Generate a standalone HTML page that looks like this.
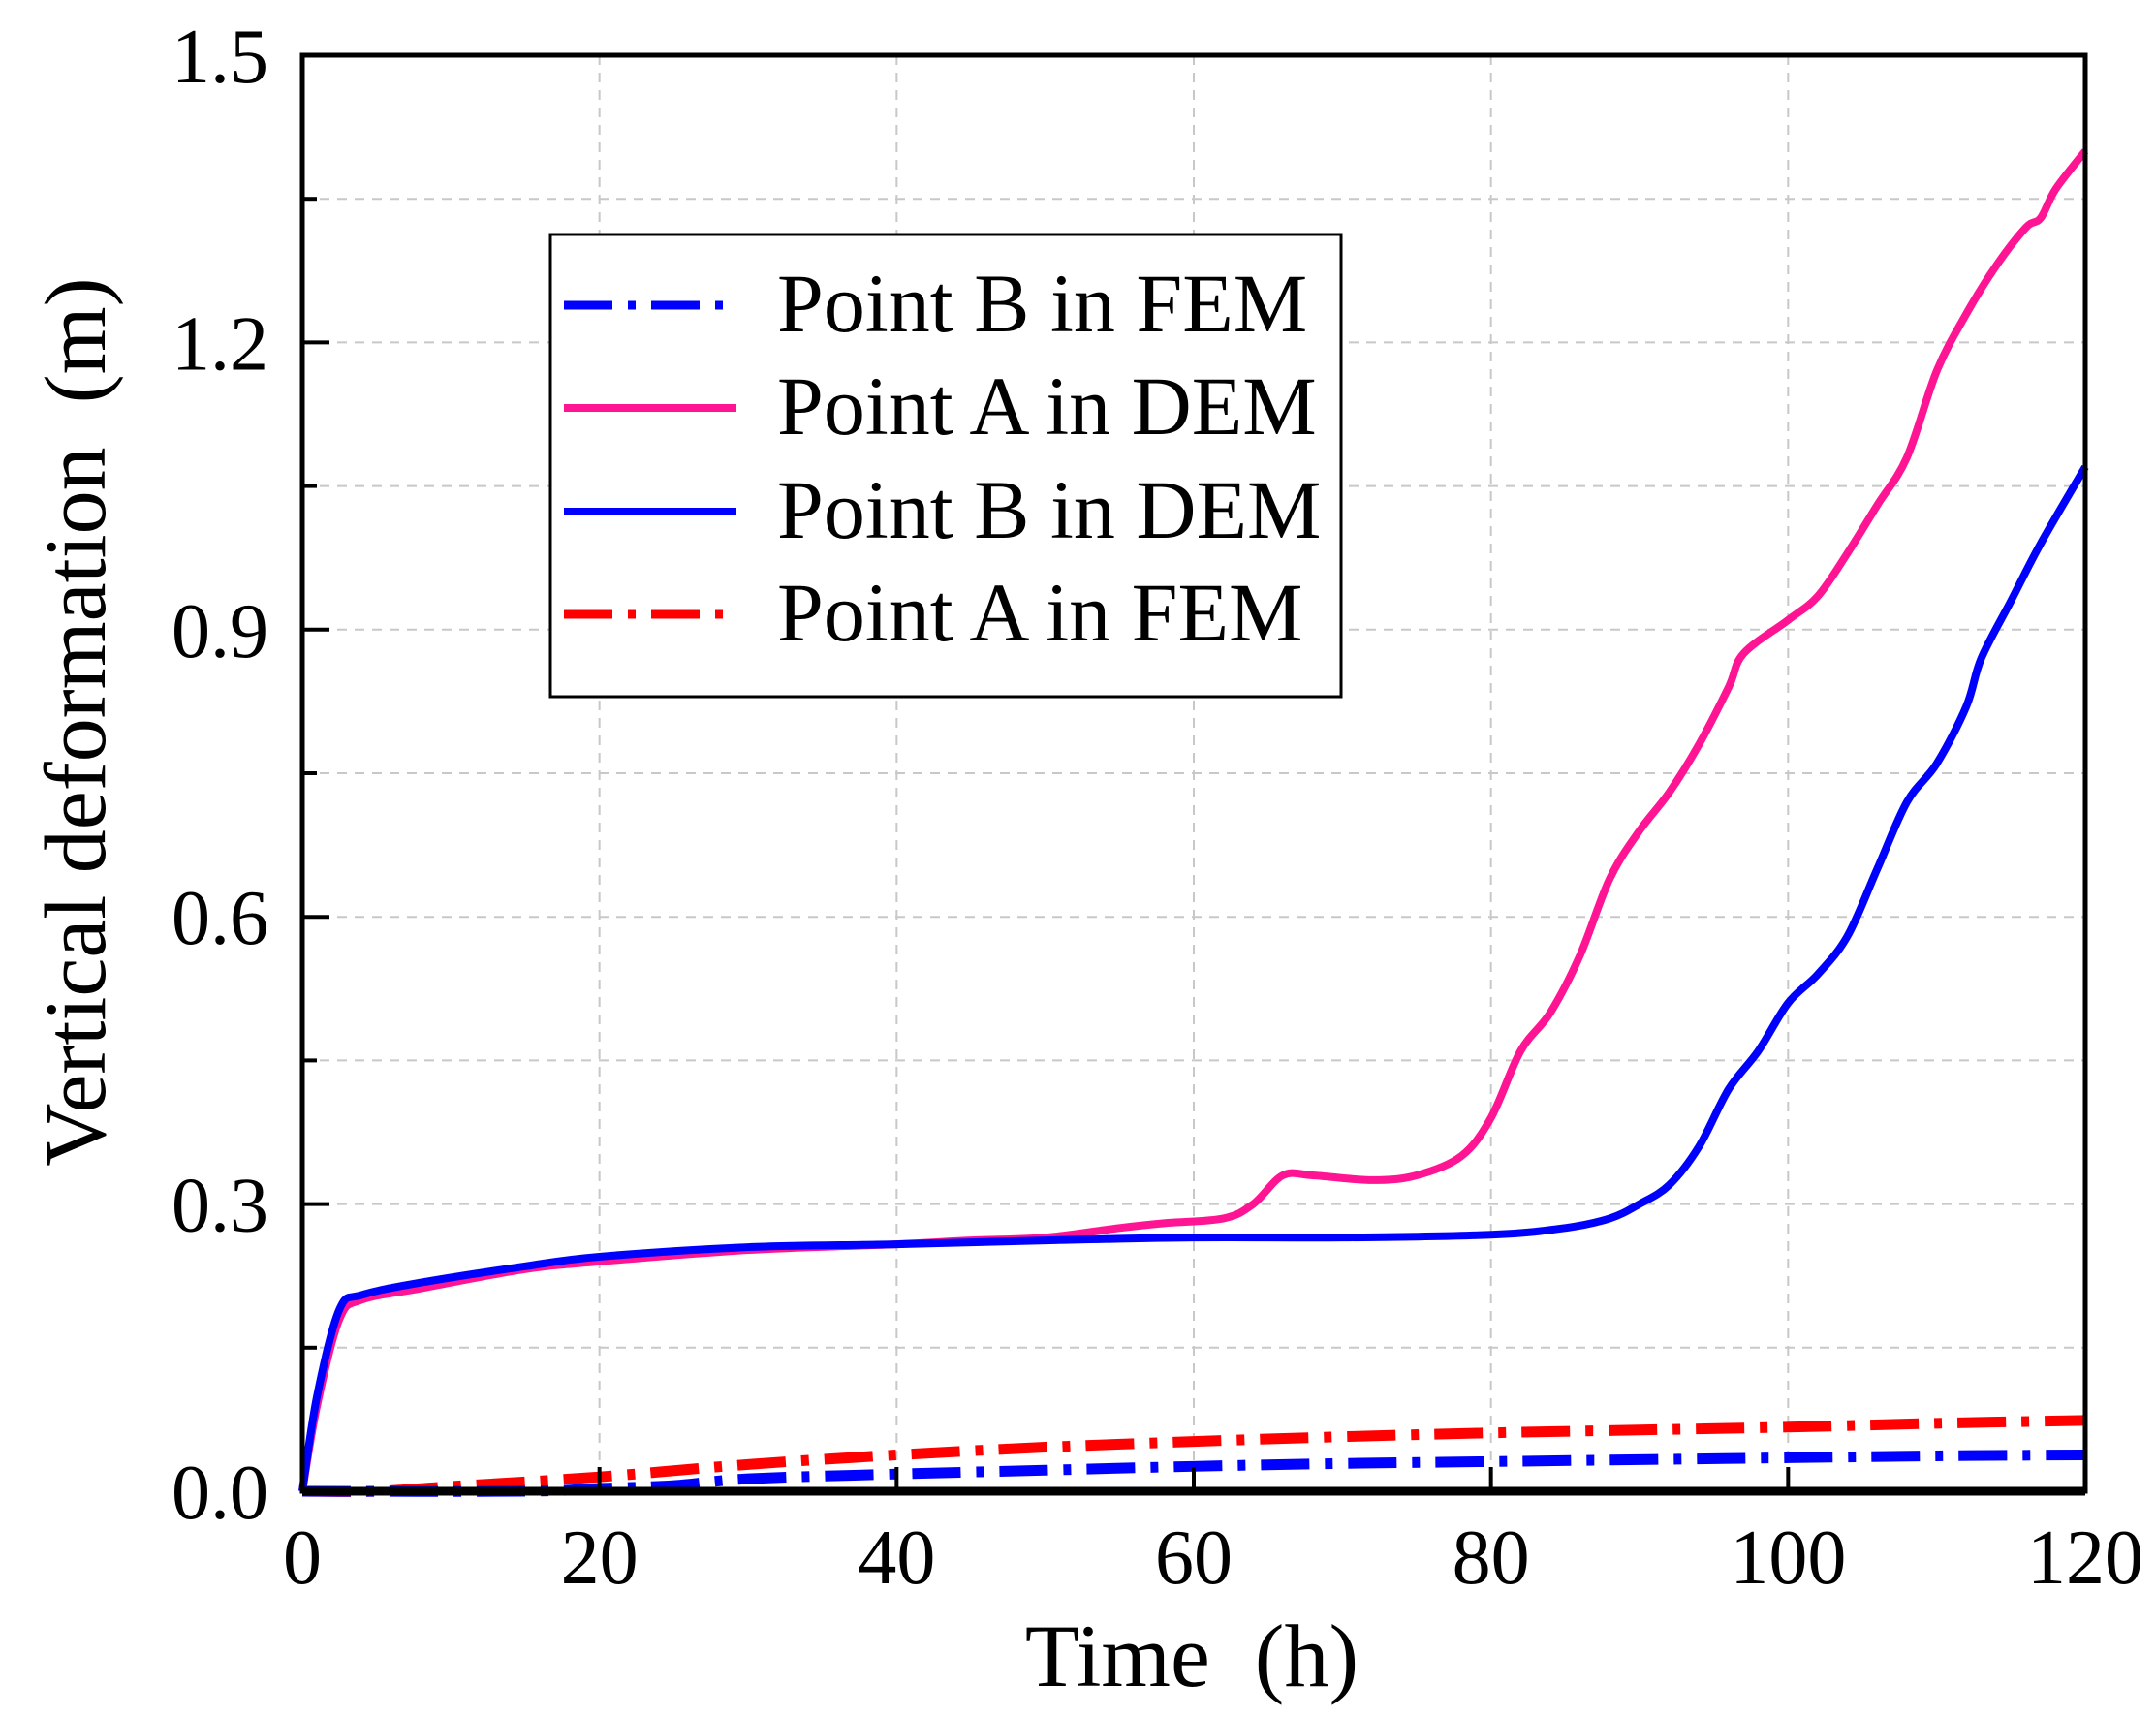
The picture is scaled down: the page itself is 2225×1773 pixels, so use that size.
<!DOCTYPE html>
<html><head><meta charset="utf-8"><style>
html,body{margin:0;padding:0;background:#fff;}
svg{display:block;font-family:"Liberation Serif",serif;}
</style></head><body>
<svg id="chart" width="2225" height="1773" viewBox="0 0 2225 1773" xmlns="http://www.w3.org/2000/svg">
<g id="grid"></g>
<g id="series"></g>
<g id="axes"></g>
<text x="1230" y="1740" font-size="92" text-anchor="middle">Time &#160;(h)</text>
<text transform="translate(108,745) rotate(-90)" font-size="90" text-anchor="middle">Vertical deformation &#160;(m)</text>
<g>
<rect x="568" y="242" width="816" height="477" fill="#fff" stroke="#000" stroke-width="3"/>
<g><line x1="582" y1="315" x2="760" y2="315" stroke="#0000ff" stroke-width="9" stroke-dasharray="50 16 8 16"/><text x="802" y="342" font-size="86">Point B in FEM</text></g>
<g><line x1="582" y1="421" x2="760" y2="421" stroke="#ff1493" stroke-width="8"/><text x="802" y="448" font-size="86">Point A in DEM</text></g>
<g><line x1="582" y1="528" x2="760" y2="528" stroke="#0000ff" stroke-width="8"/><text x="802" y="555" font-size="86">Point B in DEM</text></g>
<g><line x1="582" y1="634" x2="760" y2="634" stroke="#ff0000" stroke-width="9" stroke-dasharray="50 16 8 16"/><text x="802" y="661" font-size="86">Point A in FEM</text></g>
</g>
</svg>
<script>
const xTicks=[0,20,40,60,80,100,120];
const yTicks=[0.0,0.3,0.6,0.9,1.2,1.5];
const yTickLabels=["0.0","0.3","0.6","0.9","1.2","1.5"];
const bDemT=[0,1,2.5,4,8,15,20,30,40,50,60,70,80,85,88,90,92,94,96,98,100,102,104,106,108,110,112,113,115,117,120];
const bDemV=[0,0.1,0.19,0.205,0.218,0.235,0.245,0.255,0.258,0.262,0.265,0.265,0.268,0.275,0.285,0.3,0.32,0.36,0.42,0.46,0.51,0.54,0.58,0.65,0.72,0.76,0.82,0.87,0.93,0.99,1.07];
const aDemT=[0,1,2.5,4,8,15,20,30,40,45,50,55,58,62,64,66,68,72,75,78,80,82,84,86,88,90,92,94,96,97,100,102,104,106,108,110,112,114,116,117,118,120];
const aDemV=[0,0.09,0.18,0.2,0.212,0.232,0.24,0.252,0.258,0.262,0.265,0.275,0.28,0.285,0.3,0.33,0.33,0.325,0.33,0.35,0.39,0.46,0.5,0.56,0.64,0.69,0.73,0.78,0.84,0.875,0.91,0.935,0.98,1.03,1.08,1.17,1.23,1.28,1.32,1.33,1.36,1.4];
const aFemT=[0,5,10,20,30,40,50,60,70,80,90,100,110,120];
const aFemV=[0,0,0.005,0.015,0.028,0.038,0.046,0.052,0.057,0.061,0.064,0.067,0.071,0.074];
const bFemT=[0,15,20,25,30,40,50,60,70,80,90,100,110,120];
const bFemV=[0,0,0.003,0.006,0.013,0.018,0.022,0.026,0.029,0.031,0.033,0.035,0.037,0.038];
const L=312,R=2152,T=57,B=1539;
const sx=t=>L+(t-0)/120*(R-L);
const sy=v=>B-(v/1.5)*(B-T);
const NS="http://www.w3.org/2000/svg";
function mk(tag,attrs,parent){const e=document.createElementNS(NS,tag);for(const k in attrs)e.setAttribute(k,attrs[k]);parent.appendChild(e);return e;}
const grid=document.getElementById('grid'),axes=document.getElementById('axes'),series=document.getElementById('series');
for(let i=1;i<xTicks.length-1;i++){const x=sx(xTicks[i]);const g=mk('line',{x1:x,y1:T,x2:x,y2:B,stroke:'#c8c8c8','stroke-width':2,'stroke-dasharray':'10 8'},grid);

}
for(let v=0.15;v<1.5;v+=0.15){const y=sy(v);const g=mk('line',{x1:L,y1:y,x2:R,y2:y,stroke:'#c8c8c8','stroke-width':2,'stroke-dasharray':'10 8'},grid);

}
function path(ts,vs){const p=ts.map((t,i)=>[sx(t),sy(vs[i])]);let d='M'+p[0][0]+','+p[0][1];
for(let i=0;i<p.length-1;i++){const p0=p[i-1]||p[i],p1=p[i],p2=p[i+1],p3=p[i+2]||p2;
d+=' C'+(p1[0]+(p2[0]-p0[0])/6)+','+(p1[1]+(p2[1]-p0[1])/6)+' '+(p2[0]-(p3[0]-p1[0])/6)+','+(p2[1]-(p3[1]-p1[1])/6)+' '+p2[0]+','+p2[1];}return d;}
const s1=mk('path',{d:path(aFemT,aFemV),fill:'none',stroke:'#ff0000','stroke-width':11,'stroke-dasharray':'50 16 8 16'},series);


const s2=mk('path',{d:path(bFemT,bFemV),fill:'none',stroke:'#0000ff','stroke-width':11,'stroke-dasharray':'50 16 8 16'},series);


const s3=mk('path',{d:path(aDemT,aDemV),fill:'none',stroke:'#ff1493','stroke-width':8},series);


const s4=mk('path',{d:path(bDemT,bDemV),fill:'none',stroke:'#0000ff','stroke-width':8},series);


const fr=mk('rect',{x:L,y:T,width:R-L,height:B-T,fill:'none',stroke:'#000','stroke-width':5},axes);


const bl=mk('line',{x1:L,y1:B,x2:R,y2:B,stroke:'#000','stroke-width':9},axes);


xTicks.forEach(t=>{const x=sx(t);mk('line',{x1:x,y1:B,x2:x,y2:B-25,stroke:'#000','stroke-width':4},axes);
const tx=mk('text',{x:x,y:1634,'font-size':80,'text-anchor':'middle'},axes);tx.textContent=String(t);

});
yTicks.forEach((v,i)=>{const y=sy(v);mk('line',{x1:L,y1:y,x2:L+28,y2:y,stroke:'#000','stroke-width':4},axes);
const tx=mk('text',{x:277,y:y+28,'font-size':80,'text-anchor':'end'},axes);tx.textContent=yTickLabels[i];

});
for(let v=0.15;v<1.5;v+=0.3){const y=sy(v);mk('line',{x1:L,y1:y,x2:L+15,y2:y,stroke:'#000','stroke-width':4},axes);}
</script>
</body></html>
